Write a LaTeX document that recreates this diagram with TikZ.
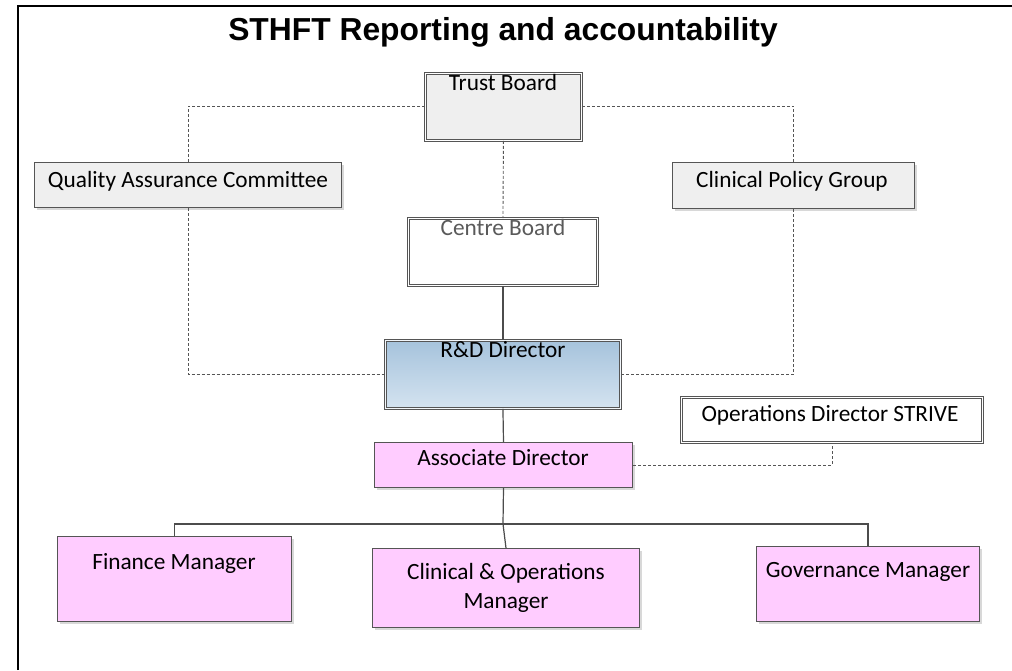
\documentclass[tikz,border=0pt]{standalone}
\usepackage{fontspec}
\setmainfont{Carlito}
\newfontfamily\titlefont{Liberation Sans}
\usetikzlibrary{shadows}
\definecolor{boxgrey}{HTML}{EFEFEF}
\definecolor{boxpink}{HTML}{FFCCFF}
\definecolor{edge}{HTML}{555555}
\definecolor{rdtop}{HTML}{A6C3DC}
\definecolor{rdbot}{HTML}{D4E3F0}
\definecolor{dimtext}{HTML}{5A5A5A}
\tikzset{
  shade2/.style={drop shadow={shadow xshift=2pt, shadow yshift=-2pt, fill=black!30, opacity=0.5}},
  plainbox/.style={shade2, draw=edge, line width=1pt, anchor=north west, inner sep=0pt},
  dblbox/.style={shade2, draw=edge, line width=0.9pt, double=white, double distance=1.6pt, anchor=north west, inner sep=0pt},
  lbl/.style={anchor=base, inner sep=0pt, font=\fontsize{23.3}{28}\selectfont, align=center},
  dashlink/.style={draw=edge, line width=0.9pt, dash pattern=on 3pt off 2pt},
  solidlink/.style={draw=black!70, line width=1.2pt},
}
\begin{document}
\begin{tikzpicture}[x=1pt, y=-1pt]
\useasboundingbox (0,0) rectangle (1012,670);
% page frame
\draw[line width=2.5pt, black] (18,670) coordinate (fl) -- (18,6) coordinate (fc) -- (1012,6) coordinate (fr);
% title
\node[anchor=base, inner sep=0pt, font=\titlefont\bfseries\fontsize{31.8}{36}\selectfont] (title) at (503,40) {STHFT Reporting and accountability};

% boxes
\node[dblbox, fill=boxgrey, minimum width=156pt, minimum height=67pt] (trust) at (425,73) {};
\node[plainbox, fill=boxgrey, minimum width=307pt, minimum height=45pt] (qac) at (34,162) {};
\node[plainbox, fill=boxgrey, minimum width=242pt, minimum height=46pt] (cpg) at (672,162) {};
\node[dblbox, fill=white, minimum width=189pt, minimum height=67pt] (centre) at (408,218) {};
\node[dblbox, top color=rdtop, bottom color=rdbot, double=white!85!rdtop, minimum width=235pt, minimum height=68pt] (rd) at (385,340) {};
\node[dblbox, fill=white, minimum width=301pt, minimum height=45pt] (ops) at (681,397) {};
\node[plainbox, fill=boxpink, minimum width=258pt, minimum height=45pt] (ad) at (374,442) {};
\node[plainbox, fill=boxpink, minimum width=234pt, minimum height=85pt] (fin) at (57,536) {};
\node[plainbox, fill=boxpink, minimum width=267pt, minimum height=79pt] (cli) at (372,548) {};
\node[plainbox, fill=boxpink, minimum width=223pt, minimum height=75pt] (gov) at (756,546) {};

% box texts
\node[lbl] (trust-t) at (503,90) {Trust Board};
\node[lbl] (qac-t) at (188,187) {Quality Assurance Committee};
\node[lbl] (cpg-t) at (792,187) {Clinical Policy Group};
\node[lbl, text=dimtext] (centre-t) at (503,235) {Centre Board};
\node[lbl] (rd-t) at (503,357) {R\&D Director};
\node[lbl] (ops-t) at (830,421) {Operations Director STRIVE};
\node[lbl] (ad-t) at (503,465) {Associate Director};
\node[lbl] (fin-t) at (174,569) {Finance Manager};
% base anchor of a two-line node sits on its last line
\node[lbl] (cli-t) at (506,608) {Clinical \& Operations\\[1pt]Manager};
\node[lbl] (gov-t) at (868,577) {Governance Manager};

% dashed reporting lines
\draw[dashlink] (trust.west |- 0,106) -| (qac.north);
\draw[dashlink] (qac.south) |- (rd.west);
\draw[dashlink] (trust.east |- 0,106) -| (cpg.north);
\draw[dashlink] (cpg.south) |- (rd.east);
\draw[dashlink] (trust.south) -- (centre.north);
\draw[dashlink] (ad.east) -| (ops.south);

% solid line management
\draw[solidlink] (centre.south) -- (rd.north);
\draw[solidlink] (rd.south) -- (ad.north);
\coordinate (bus) at (503,524);
\draw[solidlink] (ad.south) -- (bus);
\draw[solidlink] (fin.north) -- (fin.north |- bus) -- (gov.north |- bus) -- (gov.north);
\draw[solidlink] (bus) -- (cli.north);
\end{tikzpicture}
\end{document}
